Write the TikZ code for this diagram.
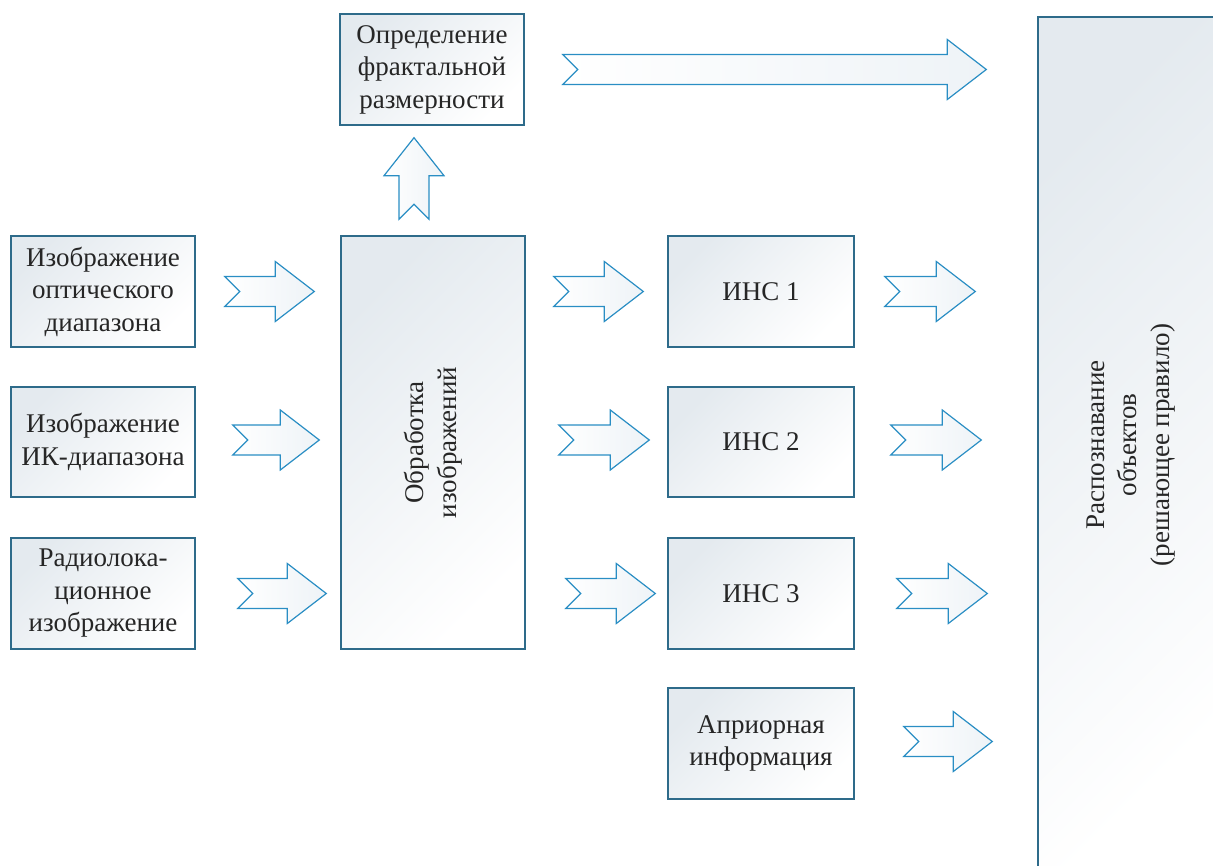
\documentclass[tikz,border=0pt]{standalone}
\usepackage{fontspec}
\setmainfont{Liberation Serif}
\usetikzlibrary{calc}
\definecolor{boxline}{HTML}{2E6B8A}
\definecolor{boxshade}{HTML}{E4EAEF}
\definecolor{arrline}{HTML}{2A8EC4}
\definecolor{arrshade}{HTML}{EEF3F7}
\tikzset{
  blk/.style={draw=boxline, line width=1.4pt, top color=boxshade, bottom color=white, shading angle=45,
    minimum width=184pt, minimum height=111pt, inner sep=0pt, align=center,
    font=\fontsize{27}{32.5}\selectfont, text=black!85},
  blockarrow/.style={draw=arrline, line width=1.2pt, line join=miter, left color=white, right color=arrshade},
  rottext/.style={rotate=90, align=center, font=\fontsize{27}{32.5}\selectfont, text=black!85}
}
\newcommand{\harrow}[2]{%
  \draw[blockarrow] let \p1=#1, \p2=#2 in
   (\x1,\y1+15pt) -- (\x2-39pt,\y1+15pt) -- (\x2-39pt,\y1+30pt) -- (\x2,\y1)
   -- (\x2-39pt,\y1-30pt) -- (\x2-39pt,\y1-15pt) -- (\x1,\y1-15pt) -- (\x1+15pt,\y1) -- cycle;}
\newcommand{\varrow}[2]{%
  \draw[blockarrow] let \p1=#1, \p2=#2 in
   (\x1-15pt,\y1) -- (\x1-15pt,\y2-38pt) -- (\x1-30pt,\y2-38pt) -- (\x1,\y2)
   -- (\x1+30pt,\y2-38pt) -- (\x1+15pt,\y2-38pt) -- (\x1+15pt,\y1) -- (\x1,\y1+15pt) -- cycle;}
\begin{document}
\begin{tikzpicture}[x=1pt,y=-1pt]
\useasboundingbox (0,0) rectangle (1213,866);
\begin{scope}
\clip (0,0) rectangle (1213,866);
\node[blk, minimum width=186pt, minimum height=856pt] (r) at (1131,445) {};
\end{scope}
\node[rottext] at (r.center) {Распознавание\\объектов\\(решающее правило)};

\node[blk] (a1) at (103,291.5) {Изображение\\оптического\\диапазона};
\node[blk, minimum height=110pt] (a2) at (103,442) {Изображение\\ИК-диапазона};
\node[blk] (a3) at (103,593.5) {Радиолока-\\ционное\\изображение};

\node[blk, minimum height=413pt] (proc) at (433,442.5) {};
\node[rottext] at (proc.center) {Обработка\\изображений};

\node[blk] (frac) at (432,69.5) {Определение\\фрактальной\\размерности};

\node[blk, minimum width=186pt] (i1) at (761,291.5) {ИНС 1};
\node[blk, minimum width=186pt, minimum height=110pt] (i2) at (761,442) {ИНС 2};
\node[blk, minimum width=186pt] (i3) at (761,593.5) {ИНС 3};
\node[blk, minimum width=186pt] (apr) at (761,743.5) {Априорная\\информация};

% arrows
\harrow{($(a1.east)+(29,0)$)}{($(proc.west|-a1.east)+(-26,0)$)}
\harrow{($(a2.east)+(37,-2)$)}{($(proc.west|-a2.east)+(-21,0)$)}
\harrow{($(a3.east)+(42,0)$)}{($(proc.west|-a3.east)+(-14,0)$)}
\harrow{($(proc.east|-i1.west)+(28,0)$)}{($(i1.west)+(-24,0)$)}
\harrow{($(proc.east|-i2.west)+(33,-2)$)}{($(i2.west)+(-18,0)$)}
\harrow{($(proc.east|-i3.west)+(40,0)$)}{($(i3.west)+(-12,0)$)}
\harrow{($(i1.east)+(30,0)$)}{($(r.west|-i1.east)+(-62,0)$)}
\harrow{($(i2.east)+(36,-2)$)}{($(r.west|-i2.east)+(-56,0)$)}
\harrow{($(i3.east)+(42,0)$)}{($(r.west|-i3.east)+(-50,0)$)}
\harrow{($(apr.east)+(49,-2)$)}{($(r.west|-apr.east)+(-45,0)$)}
\harrow{($(frac.east)+(38,0)$)}{($(r.west|-frac.east)+(-51,0)$)}
\varrow{($(proc.north)+(-19,-16)$)}{($(frac.south)+(0,12)$)}
\end{tikzpicture}
\end{document}
